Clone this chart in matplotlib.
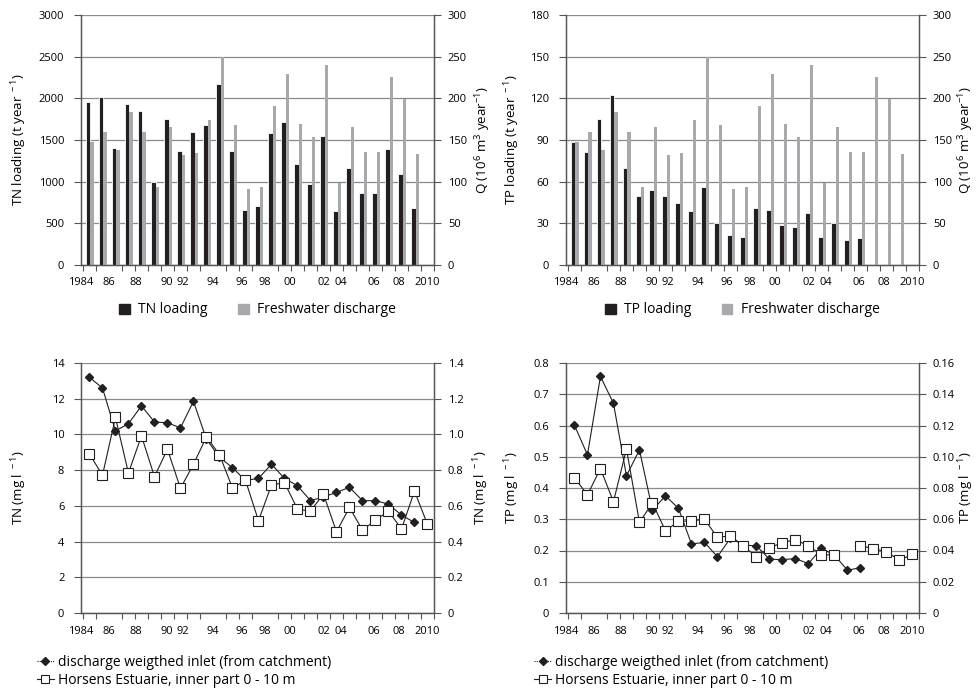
import numpy as np
import matplotlib
matplotlib.use("Agg")
import matplotlib.pyplot as plt
from matplotlib.patches import Patch
from matplotlib.lines import Line2D

plt.rcParams['font.family'] = ['Open Sans', 'DejaVu Sans']
plt.rcParams['mathtext.default'] = 'regular'

nan = np.nan

# ---- data ----
years = list(range(1984, 2011))
year_labels = ['1984', '86', '88', '90', '92', '94', '96', '98', '00',
               '02', '04', '06', '08', '2010']

tn_loading = [1950, 2020, 1405, 1935, 1850, 1000, 1748, 1368, 1592, 1685,
              2176, 1368, 662, 702, 1588, 1720, 1208, 968, 1548, 652,
              1160, 860, 860, 1388, 1088, 680, nan]
tp_loading = [88.6, 81.4, 105.0, 122.2, 70.0, 49.4, 54.0, 49.4, 44.9, 38.6,
              56.2, 30.0, 21.6, 19.9, 41.0, 39.6, 28.8, 27.1, 37.7, 19.9,
              30.5, 18.2, 19.4, nan, nan, nan, nan]
discharge = [148, 160, 138, 183, 159, 94, 165, 132, 134, 174,
             250, 168, 91, 94, 191, 229, 169, 154, 240, 98,
             166, 136, 136, 226, 199, 133, nan]

tn_inlet = [13.2, 12.6, 10.2, 10.6, 11.6, 10.7, 10.65, 10.37, 11.85, 9.73,
            8.72, 8.14, 7.42, 7.54, 8.33, 7.54, 7.13, 6.29, 6.5, 6.75,
            7.04, 6.29, 6.29, 6.1, 5.48, 5.07, nan]
tn_estuary = [8.91, 7.71, 10.95, 7.84, 9.92, 7.64, 9.17, 6.98, 8.33, 9.86,
              8.87, 7.0, 7.43, 5.17, 7.17, 7.3, 5.82, 5.71, 6.66, 4.55,
              5.91, 4.64, 5.2, 5.71, 4.7, 6.83, 4.96]

tp_inlet = [0.601, 0.506, 0.757, 0.671, 0.439, 0.522, 0.329, 0.375, 0.335, 0.221,
            0.226, 0.180, 0.240, 0.217, 0.215, 0.172, 0.171, 0.174, 0.158, 0.207,
            0.185, 0.137, 0.145, nan, nan, nan, nan]
tp_estuary = [0.433, 0.378, 0.462, 0.356, 0.525, 0.290, 0.352, 0.263, 0.293, 0.295,
              0.300, 0.242, 0.247, 0.214, 0.180, 0.209, 0.225, 0.235, 0.214, 0.187,
              0.185, nan, 0.215, 0.206, 0.196, 0.169, 0.188]

# ---- layout ----
# year labels in the original are hand placed, slightly off the slot centres
label_pos = [-0.65, 1.5, 3.58, 5.96, 7.19, 9.5, 11.7, 13.5, 15.4,
             18.0, 19.3, 21.9, 23.8, 26.0]

BLACK = '#231f20'
GREY = '#a7a9ac'
GRID = '#8a8a8a'
AXC = '#555555'
TICK_FS = 8.0
LAB_FS = 10
YLAB_FS = 9.6

x = np.arange(len(years))


def style_axes(ax, ax2, ylim, yticks, ylabels, ylim2, yticks2, ylabels2,
               ylabel, ylabel2, lx, rx):
    ax.set_xlim(-0.5, len(years) - 0.5)
    ax.set_ylim(*ylim)
    ax2.set_ylim(*ylim2)
    ax.set_yticks(yticks)
    ax.set_yticklabels(ylabels, fontsize=TICK_FS)
    ax2.set_yticks(yticks2)
    ax2.set_yticklabels(ylabels2, fontsize=TICK_FS)
    ax.set_xticks(label_pos)
    ax.set_xticklabels(year_labels, fontsize=TICK_FS)
    ax.set_xticks(np.arange(-0.5, len(years) + 0.5, 1), minor=True)
    ax.tick_params(axis='x', which='major', length=0, pad=9)
    ax.tick_params(axis='x', which='minor', length=4, width=0.8, color=AXC)
    ax.tick_params(axis='y', length=5, width=0.8, color=AXC, pad=7)
    ax2.tick_params(axis='y', length=5, width=0.8, color=AXC, pad=5)
    ax.grid(axis='y', color=GRID, linewidth=0.9)
    ax.set_axisbelow(True)
    for a in (ax, ax2):
        a.spines['top'].set_visible(False)
        for s in ('left', 'right', 'bottom'):
            a.spines[s].set_color(AXC)
            a.spines[s].set_linewidth(0.9)
    ax.set_ylabel(ylabel, fontsize=YLAB_FS)
    ax2.set_ylabel(ylabel2, fontsize=YLAB_FS)
    ax.yaxis.set_label_coords(lx, 0.5)
    ax2.yaxis.set_label_coords(rx, 0.5)


def bar_panel(rect, load, ylim, yticks, ylabel, load_name, lx, rx):
    ax = fig.add_axes(rect)
    ax2 = ax.twinx()
    ax.bar(x - 0.11, load, width=0.38, color=BLACK, edgecolor='white',
           linewidth=0.6, zorder=2)
    ax2.bar(x + 0.205, discharge, width=0.25, color=GREY, linewidth=0, zorder=2)
    style_axes(ax, ax2, ylim, yticks, [str(v) for v in yticks],
               (0, 300), list(range(0, 301, 50)),
               [str(v) for v in range(0, 301, 50)],
               ylabel, r'Q (10$^{6}$ m$^{3}$ year$^{-1}$)', lx, rx)
    handles = [Patch(color=BLACK), Patch(color=GREY)]
    ax.legend(handles, [load_name, 'Freshwater discharge'], ncol=2,
              loc='center', bbox_to_anchor=(0.5, -0.18), frameon=False,
              fontsize=LAB_FS, handlelength=0.75, handleheight=0.75,
              handletextpad=0.6, columnspacing=2.2)
    return ax


def line_panel(rect, inlet, estuary, ylim, yticks, ylabels, ylim2, yticks2,
               ylabels2, ylabel, lx, rx, legx):
    ax = fig.add_axes(rect)
    ax2 = ax.twinx()
    ax.plot(x, inlet, color=BLACK, linewidth=0.8, marker='D', markersize=4,
            markerfacecolor=BLACK, markeredgecolor=BLACK, zorder=3)
    ax.plot(x, estuary, color=BLACK, linewidth=0.8, marker='s', markersize=6.5,
            markerfacecolor='white', markeredgecolor=BLACK,
            markeredgewidth=0.8, zorder=3)
    style_axes(ax, ax2, ylim, yticks, ylabels, ylim2, yticks2, ylabels2,
               ylabel, ylabel, lx, rx)
    handles = [
        Line2D([], [], color=BLACK, linewidth=0.8, linestyle=(0, (1, 1)),
               marker='D', markersize=4),
        Line2D([], [], color=BLACK, linewidth=0.8, marker='s', markersize=5.5,
               markerfacecolor='white', markeredgewidth=0.8),
    ]
    ax.legend(handles, ['discharge weigthed inlet (from catchment)',
                        'Horsens Estuarie, inner part 0 - 10 m'],
              loc='upper left', bbox_to_anchor=(legx, -0.145),
              frameon=False, fontsize=LAB_FS, handlelength=1.2,
              handletextpad=0.3, labelspacing=0.25, borderaxespad=0)
    return ax


fig = plt.figure(figsize=(9.77, 6.94), dpi=100)

W, H = 977.0, 694.0
def rect(l, t, r, b):
    return [l / W, 1 - b / H, (r - l) / W, (b - t) / H]

bar_panel(rect(81, 15, 434, 265), tn_loading, (0, 3000),
          list(range(0, 3001, 500)), r'TN loading (t year$^{\ -1}$)',
          'TN loading', -0.147, 1.112)
bar_panel(rect(566, 15, 919, 265), tp_loading, (0, 180),
          list(range(0, 181, 30)), r'TP loading (t year$^{\ -1}$)',
          'TP loading', -0.125, 1.105)

line_panel(rect(81, 363, 434, 613), tn_inlet, tn_estuary, (0, 14),
           list(range(0, 15, 2)), [str(v) for v in range(0, 15, 2)],
           (0, 1.4), [0, 0.2, 0.4, 0.6, 0.8, 1.0, 1.2, 1.4],
           ['0', '0.2', '0.4', '0.6', '0.8', '1.0', '1.2', '1.4'],
           r'TN (mg l$^{\ -1}$)', -0.147, 1.105, -0.14)
line_panel(rect(566, 363, 919, 613), tp_inlet, tp_estuary, (0, 0.8),
           [0, 0.1, 0.2, 0.3, 0.4, 0.5, 0.6, 0.7, 0.8],
           ['0', '0.1', '0.2', '0.3', '0.4', '0.5', '0.6', '0.7', '0.8'],
           (0, 0.16), [0, 0.02, 0.04, 0.06, 0.08, 0.10, 0.12, 0.14, 0.16],
           ['0', '0.02', '0.04', '0.06', '0.08', '0.10', '0.12', '0.14', '0.16'],
           r'TP (mg l$^{\ -1}$)', -0.125, 1.105, -0.105)

fig.savefig('out.png', dpi=100)
